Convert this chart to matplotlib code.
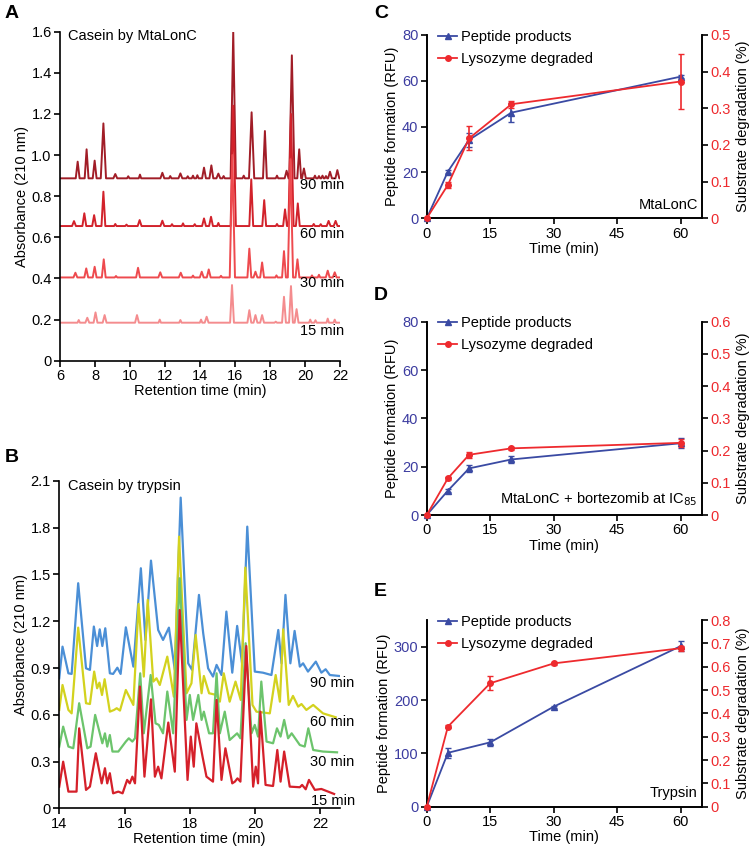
import matplotlib.pyplot as plt

plt.rcParams['font.family'] = ['Liberation Sans', 'DejaVu Sans']
plt.rcParams['font.size'] = 10.5

# ---- panel A: casein by MtaLonC, peak tables (retention time, apex) ----
base_a = {'90 min': 0.887, '60 min': 0.655, '30 min': 0.405, '15 min': 0.185}
rt90 = [7.01, 7.52, 7.98, 8.48, 9.16, 9.9, 10.57, 11.85, 12.3, 12.88, 13.3, 13.6, 13.85,
        14.23, 14.65, 15.05, 15.35, 15.9, 16.5, 16.95, 17.71, 18.4, 18.95, 19.25, 19.67,
        19.94, 20.57, 20.8, 21.0, 21.2, 21.43, 21.85]
ab90 = [0.968, 1.028, 0.973, 1.154, 0.908, 0.897, 0.905, 0.914, 0.898, 0.911, 0.897, 0.9, 0.902,
        0.939, 0.95, 0.91, 0.898, 1.6, 0.9, 1.208, 1.117, 0.9, 0.924, 1.485, 1.028,
        0.935, 0.9, 0.898, 0.9, 0.898, 0.919, 0.927]
rt60 = [6.8, 7.39, 7.95, 8.48, 9.16, 9.8, 10.55, 11.85, 12.4, 13.03, 13.7, 14.23, 14.63, 15.05,
        15.9, 16.93, 17.67, 18.4, 18.86, 19.2, 19.59, 20.5, 20.9, 21.35, 21.75]
ab60 = [0.679, 0.717, 0.708, 0.822, 0.665, 0.662, 0.684, 0.681, 0.664, 0.668, 0.664, 0.692, 0.700,
        0.67, 1.24, 0.882, 0.781, 0.665, 0.736, 1.2, 0.765, 0.665, 0.664, 0.68, 0.68]
rt30 = [6.88, 7.5, 7.98, 8.5, 9.2, 10.46, 11.73, 12.9, 13.6, 14.1, 14.5, 15.2, 15.85, 16.82,
        17.17, 17.55, 18.37, 18.8, 19.17, 19.57, 20.4, 20.8, 21.3, 21.7]
ab30 = [0.428, 0.449, 0.457, 0.493, 0.412, 0.452, 0.43, 0.428, 0.414, 0.433, 0.444, 0.413, 1.0,
        0.545, 0.433, 0.478, 0.415, 0.533, 0.98, 0.493, 0.415, 0.418, 0.438, 0.43]
rt15 = [7.07, 7.56, 8.03, 8.55, 10.4, 11.7, 12.88, 14.06, 14.38, 15.83, 16.82, 17.17,
        17.55, 18.33, 18.8, 19.2, 19.52, 20.3, 20.6, 21.3, 21.7]
ab15 = [0.198, 0.209, 0.235, 0.222, 0.222, 0.2, 0.198, 0.2, 0.214, 0.368, 0.246, 0.222,
        0.222, 0.19, 0.311, 0.363, 0.251, 0.2, 0.197, 0.205, 0.2]

# ---- panel B: casein by trypsin, traced vertices (time, absorbance) ----
tb90 = [14.0, 14.10, 14.28, 14.38, 14.58, 14.82, 14.94, 15.06, 15.16, 15.24, 15.32, 15.41,
        15.55, 15.65, 15.78, 15.88, 16.04, 16.27, 16.50, 16.64, 16.81, 17.03, 17.18, 17.36,
        17.54, 17.72, 17.95, 18.07, 18.28, 18.41, 18.56, 18.71, 18.82, 18.97, 19.12, 19.30,
        19.45, 19.60, 19.76, 19.99, 20.24, 20.50, 20.71, 20.81, 20.93, 21.08, 21.21, 21.37,
        21.47, 21.62, 21.86, 22.03, 22.16, 22.29, 22.57]
yb90 = [0.834, 1.037, 0.866, 0.862, 1.444, 0.898, 0.888, 1.166, 1.041, 1.148, 1.041, 1.155,
        0.866, 0.862, 0.902, 0.862, 1.161, 0.909, 1.540, 1.080, 1.589, 1.144, 1.080, 1.159,
        0.888, 1.993, 0.930, 0.888, 1.369, 1.123, 0.898, 0.845, 0.920, 0.855, 1.262, 0.870,
        1.170, 0.930, 1.807, 0.877, 0.870, 0.855, 1.144, 0.930, 1.369, 0.930, 1.138, 0.909,
        0.930, 0.877, 0.941, 0.870, 0.892, 0.855, 0.849]
tb60 = [14.0, 14.10, 14.28, 14.38, 14.58, 14.82, 14.94, 15.07, 15.16, 15.23, 15.31, 15.39,
        15.55, 15.68, 15.76, 15.86, 16.04, 16.27, 16.43, 16.59, 16.71, 16.88, 16.98, 17.08,
        17.31, 17.51, 17.67, 17.90, 18.05, 18.18, 18.36, 18.43, 18.59, 18.82, 18.92, 19.04,
        19.22, 19.40, 19.56, 19.70, 19.92, 20.04, 20.45, 20.63, 20.76, 20.86, 21.03, 21.16,
        21.32, 21.42, 21.57, 21.78, 22.08, 22.47]
yb60 = [0.631, 0.791, 0.631, 0.609, 1.159, 0.674, 0.669, 0.877, 0.770, 0.806, 0.727, 0.828,
        0.620, 0.631, 0.642, 0.627, 0.759, 0.663, 1.311, 0.845, 1.337, 0.813, 0.834, 0.791,
        0.973, 0.716, 1.743, 0.738, 0.802, 1.112, 0.738, 0.849, 0.738, 0.727, 0.684, 0.866,
        0.684, 0.813, 0.695, 1.544, 0.663, 0.620, 0.609, 0.855, 0.684, 1.148, 0.663, 0.721,
        0.652, 0.669, 0.631, 0.663, 0.609, 0.584]
tb30 = [14.0, 14.12, 14.28, 14.43, 14.61, 14.86, 14.96, 15.10, 15.32, 15.40, 15.47, 15.55,
        15.63, 15.81, 16.04, 16.13, 16.24, 16.32, 16.48, 16.59, 16.80, 16.95, 17.05, 17.18,
        17.31, 17.49, 17.69, 17.90, 18.00, 18.10, 18.26, 18.36, 18.43, 18.59, 18.71, 18.82,
        18.92, 19.07, 19.22, 19.45, 19.55, 19.71, 19.89, 19.99, 20.09, 20.19, 20.35, 20.55,
        20.67, 20.78, 20.89, 21.01, 21.12, 21.37, 21.52, 21.63, 21.78, 22.08, 22.51]
yb30 = [0.396, 0.524, 0.396, 0.385, 0.674, 0.385, 0.396, 0.599, 0.417, 0.481, 0.396, 0.470,
        0.364, 0.364, 0.428, 0.449, 0.428, 0.449, 0.866, 0.481, 0.855, 0.545, 0.535, 0.481,
        0.749, 0.481, 1.476, 0.567, 0.727, 0.567, 0.727, 0.567, 0.620, 0.481, 0.481, 0.866,
        0.481, 0.620, 0.438, 0.481, 0.449, 1.059, 0.481, 0.535, 0.460, 0.813, 0.428, 0.417,
        0.513, 0.460, 0.567, 0.449, 0.481, 0.406, 0.396, 0.513, 0.374, 0.364, 0.359]
tb15 = [14.0, 14.12, 14.28, 14.53, 14.61, 14.82, 14.94, 15.12, 15.30, 15.40, 15.47, 15.55,
        15.65, 15.81, 15.94, 16.08, 16.16, 16.24, 16.32, 16.47, 16.61, 16.81, 16.93, 17.03,
        17.13, 17.34, 17.54, 17.69, 17.93, 18.03, 18.12, 18.20, 18.39, 18.51, 18.71, 18.82,
        18.97, 19.09, 19.30, 19.38, 19.46, 19.55, 19.73, 19.94, 20.02, 20.09, 20.16, 20.32,
        20.55, 20.68, 20.78, 20.89, 21.06, 21.37, 21.44, 21.55, 21.65, 21.83, 22.03, 22.42]
yb15 = [0.139, 0.299, 0.107, 0.107, 0.513, 0.118, 0.139, 0.353, 0.160, 0.257, 0.160, 0.225,
        0.096, 0.107, 0.096, 0.182, 0.160, 0.203, 0.160, 0.781, 0.203, 0.699, 0.203, 0.267,
        0.192, 0.550, 0.235, 1.272, 0.182, 0.460, 0.267, 0.545, 0.331, 0.203, 0.171, 0.695,
        0.182, 0.385, 0.160, 0.171, 0.192, 0.171, 1.041, 0.139, 0.267, 0.160, 0.620, 0.150,
        0.143, 0.374, 0.171, 0.364, 0.139, 0.135, 0.150, 0.122, 0.182, 0.118, 0.124, 0.092]

# ---- panels C-E: time courses ----
tC = [0, 5, 10, 20, 60]
pepC = [0, 20.4, 34.2, 46.1, 61.8]
pepC_err = [0, 0.8, 3.0, 4.0, 0.8]
lysC = [0, 0.091, 0.218, 0.311, 0.373]
lysC_err = [0, 0.008, 0.033, 0.010, 0.075]

tD = [0, 5, 10, 20, 60]
pepD = [0, 10.1, 19.3, 23.0, 29.7]
pepD_err = [0, 0.5, 1.5, 1.5, 2.0]
lysD = [0, 0.114, 0.187, 0.207, 0.224]
lysD_err = [0, 0.004, 0.010, 0.004, 0.012]

tE = [0, 5, 15, 30, 60]
pepE = [0, 101, 120.6, 187.5, 301]
pepE_err = [0, 9, 7, 2, 9]
lysE = [0, 0.343, 0.529, 0.614, 0.679]
lysE_err = [0, 0.005, 0.03, 0.006, 0.01]

colA = {'90 min': '#a11d27', '60 min': '#d2222b', '30 min': '#ee4a4e', '15 min': '#f48c8e'}
colB = {'90 min': '#4b8fd6', '60 min': '#d3d21e', '30 min': '#6cc46c', '15 min': '#d5202a'}
BLUE = '#3a4aa3'
RED = '#ee2a2e'
TICKBLUE = '#3c3ca0'


def peak_trace(rts, apex, base, t0, t1):
    xs, ys = [t0], [base]
    for r, a in zip(rts, apex):
        h = a - base
        w = 0.15 if h > 0.25 else (0.11 if h > 0.02 else 0.07)
        xs += [r - w, r, r + w]
        ys += [base, a, base]
    xs.append(t1)
    ys.append(base)
    return xs, ys


fig = plt.figure(figsize=(7.5, 8.52), dpi=100)

# panel A
axA = fig.add_axes([0.08, 0.5766, 0.3733, 0.3862])
for name, rts, ab in [('90 min', rt90, ab90), ('60 min', rt60, ab60),
                      ('30 min', rt30, ab30), ('15 min', rt15, ab15)]:
    xs, ys = peak_trace(rts, ab, base_a[name], 6.0, 22.0)
    axA.plot(xs, ys, color=colA[name], lw=1.4, solid_joinstyle='round')
for name, y in [('90 min', 0.855), ('60 min', 0.618), ('30 min', 0.38), ('15 min', 0.143)]:
    axA.text(22.25, y, name, ha='right', va='center', fontsize=10.5)
axA.text(6.48, 1.58, 'Casein by MtaLonC', ha='left', va='center', fontsize=10.5)
axA.set_xlim(6, 22)
axA.set_ylim(0, 1.6)
axA.set_xticks(range(6, 23, 2))
axA.set_yticks([0, 0.2, 0.4, 0.6, 0.8, 1.0, 1.2, 1.4, 1.6])
axA.set_yticklabels(['0', '0.2', '0.4', '0.6', '0.8', '1.0', '1.2', '1.4', '1.6'])
axA.set_xlabel('Retention time (min)', labelpad=1)
axA.set_ylabel('Absorbance (210 nm)', labelpad=2)

# panel B
axB = fig.add_axes([0.079, 0.0513, 0.3743, 0.3842])
for name, ts, ys in [('90 min', tb90, yb90), ('60 min', tb60, yb60),
                     ('30 min', tb30, yb30), ('15 min', tb15, yb15)]:
    axB.plot(ts, ys, color=colB[name], lw=1.6, solid_joinstyle='round')
for name, y in [('90 min', 0.802), ('60 min', 0.552), ('30 min', 0.299), ('15 min', 0.049)]:
    axB.text(23.05, y, name, ha='right', va='center', fontsize=10.5, clip_on=False)
axB.text(14.28, 2.07, 'Casein by trypsin', ha='left', va='center', fontsize=10.5)
axB.set_xlim(14, 22.6)
axB.set_ylim(0, 2.1)
axB.set_xticks(range(14, 23, 2))
axB.set_yticks([0, 0.3, 0.6, 0.9, 1.2, 1.5, 1.8, 2.1])
axB.set_yticklabels(['0', '0.3', '0.6', '0.9', '1.2', '1.5', '1.8', '2.1'])
axB.set_xlabel('Retention time (min)', labelpad=1)
axB.set_ylabel('Absorbance (210 nm)', labelpad=2)

for ax in (axA, axB):
    ax.spines['top'].set_visible(False)
    ax.spines['right'].set_visible(False)
    ax.spines['left'].set_linewidth(1.2)
    ax.spines['bottom'].set_linewidth(1.2)
    ax.tick_params(direction='out', length=4, width=1.2, labelsize=10.5, pad=2)


def time_panel(rect, t, pep, pep_err, lys, lys_err, lmax, lticks, lticklabels,
               rmax, rticks, note):
    ax = fig.add_axes(rect)
    ax2 = ax.twinx()
    ax.errorbar(t, pep, yerr=pep_err, color=BLUE, marker='^', ms=4, lw=1.3,
                capsize=2, elinewidth=1.2, clip_on=False, zorder=3)
    ax2.errorbar(t, lys, yerr=lys_err, color=RED, marker='o', ms=4, lw=1.3,
                 capsize=2, elinewidth=1.2, clip_on=False, zorder=3)
    ax.set_xlim(0, 65)
    ax.set_ylim(0, lmax)
    ax2.set_ylim(0, rmax)
    ax.set_xticks([0, 15, 30, 45, 60])
    ax.set_yticks(lticks)
    ax.set_yticklabels(lticklabels)
    ax2.set_yticks(rticks)
    ax2.set_yticklabels(['0'] + ['%.1f' % v for v in rticks[1:]])
    ax.set_xlabel('Time (min)', labelpad=1)
    ax.set_ylabel('Peptide formation (RFU)', labelpad=2)
    ax2.set_ylabel('Substrate degradation (%)', labelpad=4)
    for a in (ax, ax2):
        a.spines['top'].set_visible(False)
        for s in ('left', 'right', 'bottom'):
            a.spines[s].set_linewidth(1.2)
    ax.tick_params(axis='y', colors=TICKBLUE, length=4, width=1.2, labelsize=10.5, pad=2)
    ax.tick_params(axis='y', color='black')
    ax.tick_params(axis='x', length=4, width=1.2, labelsize=10.5, pad=2)
    ax2.tick_params(axis='y', colors=RED, length=4, width=1.2, labelsize=10.5, pad=2)
    ax2.tick_params(axis='y', color='black')
    h1, = ax.plot([], [], color=BLUE, marker='^', ms=4, lw=1.3)
    h2, = ax.plot([], [], color=RED, marker='o', ms=4, lw=1.3)
    ax.legend([h1, h2], ['Peptide products', 'Lysozyme degraded'], loc='upper left',
              bbox_to_anchor=(0.02, 1.06), frameon=False, handlelength=1.3,
              handletextpad=0.3, labelspacing=0.55, fontsize=10.5, borderaxespad=0)
    ax.text(0.985, 0.035, note, transform=ax.transAxes, ha='right', va='bottom',
            fontsize=10.5)
    return ax


time_panel([0.569, 0.7438, 0.3667, 0.2152], tC, pepC, pepC_err, lysC, lysC_err,
           80, [0, 20, 40, 60, 80], ['0', '20', '40', '60', '80'],
           0.5, [0, 0.1, 0.2, 0.3, 0.4, 0.5], 'MtaLonC')
time_panel([0.569, 0.3955, 0.3667, 0.2269], tD, pepD, pepD_err, lysD, lysD_err,
           80, [0, 20, 40, 60, 80], ['0', '20', '40', '60', '80'],
           0.6, [0, 0.1, 0.2, 0.3, 0.4, 0.5, 0.6], 'MtaLonC + bortezomib at IC$_{85}$')
time_panel([0.569, 0.0532, 0.3667, 0.2191], tE, pepE, pepE_err, lysE, lysE_err,
           350, [0, 100, 200, 300], ['0', '100', '200', '300'],
           0.8, [0, 0.1, 0.2, 0.3, 0.4, 0.5, 0.6, 0.7, 0.8], 'Trypsin')

for letter, x, y in [('A', 5, 14), ('B', 5, 458), ('C', 374, 14), ('D', 374, 296),
                     ('E', 374, 592)]:
    fig.text(x / 750, 1 - y / 852, letter, fontsize=14, fontweight='bold',
             ha='left', va='center')

fig.savefig('out.png', dpi=100)
